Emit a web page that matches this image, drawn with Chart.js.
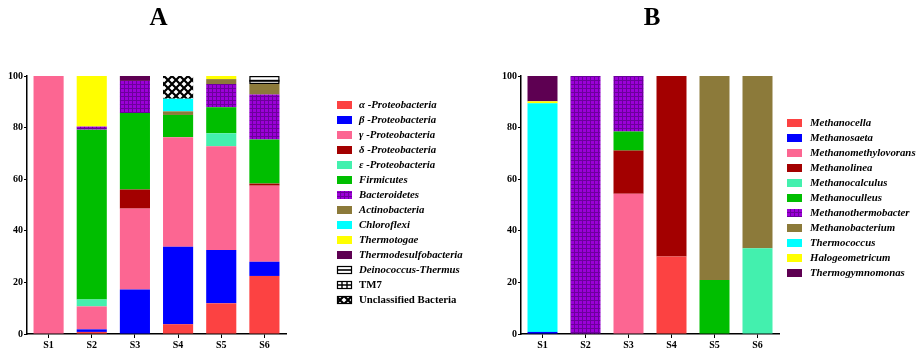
<!DOCTYPE html>
<html>
<head>
<meta charset="utf-8">
<script src="https://cdn.jsdelivr.net/npm/chart.js@4/dist/chart.umd.min.js"></script>
<style>
  html, body { margin: 0; padding: 0; background: #fff; }
  #wrap { position: relative; width: 916px; height: 348px; overflow: hidden; }
  canvas { position: absolute; top: 0; }
  #cA { left: 0; }
  #cB { left: 490px; }
</style>
</head>
<body>
<div id="wrap">
  <canvas id="cA" width="490" height="348"></canvas>
  <canvas id="cB" width="426" height="348"></canvas>
</div>
<script>
// ---- categories ----
const samples = ['S1', 'S2', 'S3', 'S4', 'S5', 'S6'];

// ---- Panel A: bacterial composition (%) ----
const alphaProteobacteria   = [0, 0.8, 0, 3.8, 11.9, 22.5];
const betaProteobacteria    = [0, 1.0, 17.2, 30.0, 20.7, 5.5];
const gammaProteobacteria   = [100, 8.9, 31.4, 42.5, 40.2, 29.5];
const deltaProteobacteria   = [0, 0, 7.4, 0, 0, 0.8];
const epsilonProteobacteria = [0, 2.7, 0, 0, 5.0, 0];
const firmicutes            = [0, 65.8, 29.7, 8.6, 10.1, 17.1];
const bacteroidetes         = [0, 1.2, 12.4, 0, 9.0, 17.4];
const actinobacteria        = [0, 0, 0, 1.4, 1.9, 4.1];
const chloroflexi           = [0, 0, 0, 4.9, 0, 0];
const thermotogae           = [0, 19.6, 0, 0, 1.2, 0];
const thermodesulfobacteria = [0, 0, 1.9, 0, 0, 0];
const deinococcusThermus    = [0, 0, 0, 0, 0, 3.1];
const tm7                   = [0, 0, 0, 0, 0, 0];
const unclassifiedBacteria  = [0, 0, 0, 8.8, 0, 0];

// ---- Panel B: archaeal composition (%) ----
const methanocella         = [0, 0, 0, 30.0, 0, 0];
const methanosaeta         = [0.8, 0, 0, 0, 0, 0];
const methanomethylovorans = [0, 0, 54.4, 0, 0, 0];
const methanolinea         = [0, 0, 16.7, 70.0, 0, 0];
const methanocalculus      = [0, 0, 0, 0, 0, 33.2];
const methanoculleus       = [0, 0, 7.4, 0, 20.9, 0];
const methanothermobacter  = [0, 100, 21.5, 0, 0, 0];
const methanobacterium     = [0, 0, 0, 0, 79.1, 66.8];
const thermococcus         = [88.6, 0, 0, 0, 0, 0];
const halogeometricum      = [0.8, 0, 0, 0, 0, 0];
const thermogymnomonas     = [9.8, 0, 0, 0, 0, 0];

const FONT = "'Liberation Serif', 'Times New Roman', serif";

// ---- fills ----
function tile(size, draw) {
  const c = document.createElement('canvas');
  c.width = size; c.height = size;
  const g = c.getContext('2d');
  draw(g, size);
  return g.createPattern(c, 'repeat');
}
const purpleGrid = tile(4, (g, s) => {
  g.fillStyle = '#9C00D8'; g.fillRect(0, 0, s, s);
  g.fillStyle = '#6C009C'; g.fillRect(0, 0, s, 1); g.fillRect(0, 0, 1, s);
});
const crossHatch = tile(8, (g, s) => {
  g.fillStyle = '#fff'; g.fillRect(0, 0, s, s);
  g.strokeStyle = '#000'; g.lineWidth = 2.2;
  g.beginPath();
  g.moveTo(-1, -1); g.lineTo(s + 1, s + 1);
  g.moveTo(s + 1, -1); g.lineTo(-1, s + 1);
  g.stroke();
});

const C = {
  red: '#FC4242', blue: '#0000FF', pink: '#FC6692', darkred: '#A30000',
  teal: '#43F0AE', green: '#00BE00', olive: '#8C7A3A', cyan: '#00FFFF',
  yellow: '#FFFF00', plum: '#5E0052', white: '#FFFFFF'
};

const seriesA = [
  { label: 'α -Proteobacteria', data: alphaProteobacteria, fill: C.red },
  { label: 'β -Proteobacteria', data: betaProteobacteria, fill: C.blue },
  { label: 'γ -Proteobacteria', data: gammaProteobacteria, fill: C.pink },
  { label: 'δ -Proteobacteria', data: deltaProteobacteria, fill: C.darkred },
  { label: 'ε -Proteobacteria', data: epsilonProteobacteria, fill: C.teal },
  { label: 'Firmicutes', data: firmicutes, fill: C.green },
  { label: 'Bacteroidetes', data: bacteroidetes, fill: purpleGrid, key: 'grid' },
  { label: 'Actinobacteria', data: actinobacteria, fill: C.olive },
  { label: 'Chloroflexi', data: chloroflexi, fill: C.cyan },
  { label: 'Thermotogae', data: thermotogae, fill: C.yellow },
  { label: 'Thermodesulfobacteria', data: thermodesulfobacteria, fill: C.plum },
  { label: 'Deinococcus-Thermus', data: deinococcusThermus, fill: C.white, key: 'stripe' },
  { label: 'TM7', data: tm7, fill: C.white, key: 'box', upright: true },
  { label: 'Unclassified Bacteria', data: unclassifiedBacteria, fill: crossHatch, key: 'hatch', upright: true }
];

const seriesB = [
  { label: 'Methanocella', data: methanocella, fill: C.red },
  { label: 'Methanosaeta', data: methanosaeta, fill: C.blue },
  { label: 'Methanomethylovorans', data: methanomethylovorans, fill: C.pink },
  { label: 'Methanolinea', data: methanolinea, fill: C.darkred },
  { label: 'Methanocalculus', data: methanocalculus, fill: C.teal },
  { label: 'Methanoculleus', data: methanoculleus, fill: C.green },
  { label: 'Methanothermobacter', data: methanothermobacter, fill: purpleGrid, key: 'grid' },
  { label: 'Methanobacterium', data: methanobacterium, fill: C.olive },
  { label: 'Thermococcus', data: thermococcus, fill: C.cyan },
  { label: 'Halogeometricum', data: halogeometricum, fill: C.yellow },
  { label: 'Thermogymnomonas', data: thermogymnomonas, fill: C.plum }
];

// Draws panel letter, striped segments and the side legend.
function panelDecor(cfg) {
  return {
    id: 'panelDecor' + cfg.title,
    afterDatasetsDraw(chart) {
      const ctx = chart.ctx;
      // outline + middle rule on striped segments
      chart.data.datasets.forEach((ds, i) => {
        if (ds._key !== 'stripe') return;
        chart.getDatasetMeta(i).data.forEach((bar, j) => {
          if (!ds.data[j]) return;
          const p = bar.getProps(['x', 'y', 'base', 'width'], true);
          const l = p.x - p.width / 2, t = Math.min(p.y, p.base), h = Math.abs(p.base - p.y);
          ctx.save();
          ctx.strokeStyle = '#000';
          ctx.lineWidth = 1.2;
          ctx.strokeRect(l + 0.6, t + 0.6, p.width - 1.2, h - 1.2);
          ctx.lineWidth = 2;
          ctx.beginPath();
          ctx.moveTo(l, t + h * 0.6); ctx.lineTo(l + p.width, t + h * 0.6);
          ctx.stroke();
          ctx.restore();
        });
      });
    },
    afterDraw(chart) {
      const ctx = chart.ctx;
      const a = chart.chartArea;
      ctx.save();
      ctx.fillStyle = '#000';
      ctx.font = 'bold 25px ' + FONT;
      ctx.textAlign = 'center';
      ctx.textBaseline = 'middle';
      ctx.fillText(cfg.title, (a.left + a.right) / 2 + 2, 19);

      const bw = 15, bh = 8;
      cfg.series.forEach((s, i) => {
        const y = cfg.legendY + i * cfg.legendStep;
        const bx = cfg.boxX, by = y - bh / 2;
        ctx.fillStyle = s.fill;
        ctx.fillRect(bx, by, bw, bh);
        ctx.strokeStyle = '#000';
        if (s.key === 'stripe' || s.key === 'box' || s.key === 'hatch') {
          ctx.lineWidth = 1.2;
          ctx.strokeRect(bx + 0.5, by + 0.5, bw - 1, bh - 1);
          ctx.beginPath();
          if (s.key === 'stripe') {
            ctx.lineWidth = 1.6;
            ctx.moveTo(bx, y); ctx.lineTo(bx + bw, y);
          } else if (s.key === 'box') {
            ctx.lineWidth = 1.4;
            ctx.moveTo(bx, y); ctx.lineTo(bx + bw, y);
            ctx.moveTo(bx + 5, by); ctx.lineTo(bx + 5, by + bh);
            ctx.moveTo(bx + 10, by); ctx.lineTo(bx + 10, by + bh);
          }
          ctx.stroke();
        }
        ctx.fillStyle = '#000';
        ctx.font = (s.upright ? 'bold ' : 'italic bold ') + '10.8px ' + FONT;
        ctx.textAlign = 'left';
        ctx.textBaseline = 'middle';
        ctx.fillText(s.label, cfg.textX, y + 0.5);
      });
      ctx.restore();
    }
  };
}

function makeChart(canvasId, cfg) {
  const datasets = cfg.series.map(s => ({
    label: s.label,
    data: s.data,
    backgroundColor: s.fill,
    borderWidth: 0,
    categoryPercentage: 1,
    barPercentage: 30 / 43,
    _key: s.key || ''
  }));
  const tickFont = { family: FONT, size: 10, weight: 'bold' };
  return new Chart(document.getElementById(canvasId), {
    type: 'bar',
    data: { labels: samples, datasets },
    options: {
      responsive: false,
      animation: false,
      layout: { padding: { left: 0, top: 76, right: cfg.padRight, bottom: 0 } },
      plugins: { legend: { display: false }, tooltip: { enabled: false }, title: { display: false } },
      scales: {
        x: {
          stacked: true,
          grid: { display: true, offset: false, drawOnChartArea: false, drawTicks: true, tickLength: 4, color: '#000', lineWidth: 1 },
          border: { display: true, color: '#000', width: 1.5 },
          ticks: { color: '#000', font: tickFont, padding: 1, maxRotation: 0 },
          afterFit(s) { s.height = 14; }
        },
        y: {
          stacked: true,
          min: 0, max: 100,
          grid: { display: true, drawOnChartArea: false, drawTicks: true, tickLength: 3, color: '#000', lineWidth: 1 },
          border: { display: true, color: '#000', width: 1.5 },
          ticks: { stepSize: 20, color: '#000', font: tickFont, padding: 1 },
          afterFit(s) { s.width = cfg.left; }
        }
      }
    },
    plugins: [panelDecor(cfg)]
  });
}

// panel A: plot spans x 27..286 on a 490px canvas
makeChart('cA', {
  title: 'A', series: seriesA, left: 27, padRight: 490 - 286,
  boxX: 337, textX: 359, legendY: 105, legendStep: 15
});
// panel B: canvas starts at 490, plot spans x 521..779 of the page
makeChart('cB', {
  title: 'B', series: seriesB, left: 31, padRight: 426 - 289,
  boxX: 297, textX: 320, legendY: 123, legendStep: 15
});
</script>
</body>
</html>
